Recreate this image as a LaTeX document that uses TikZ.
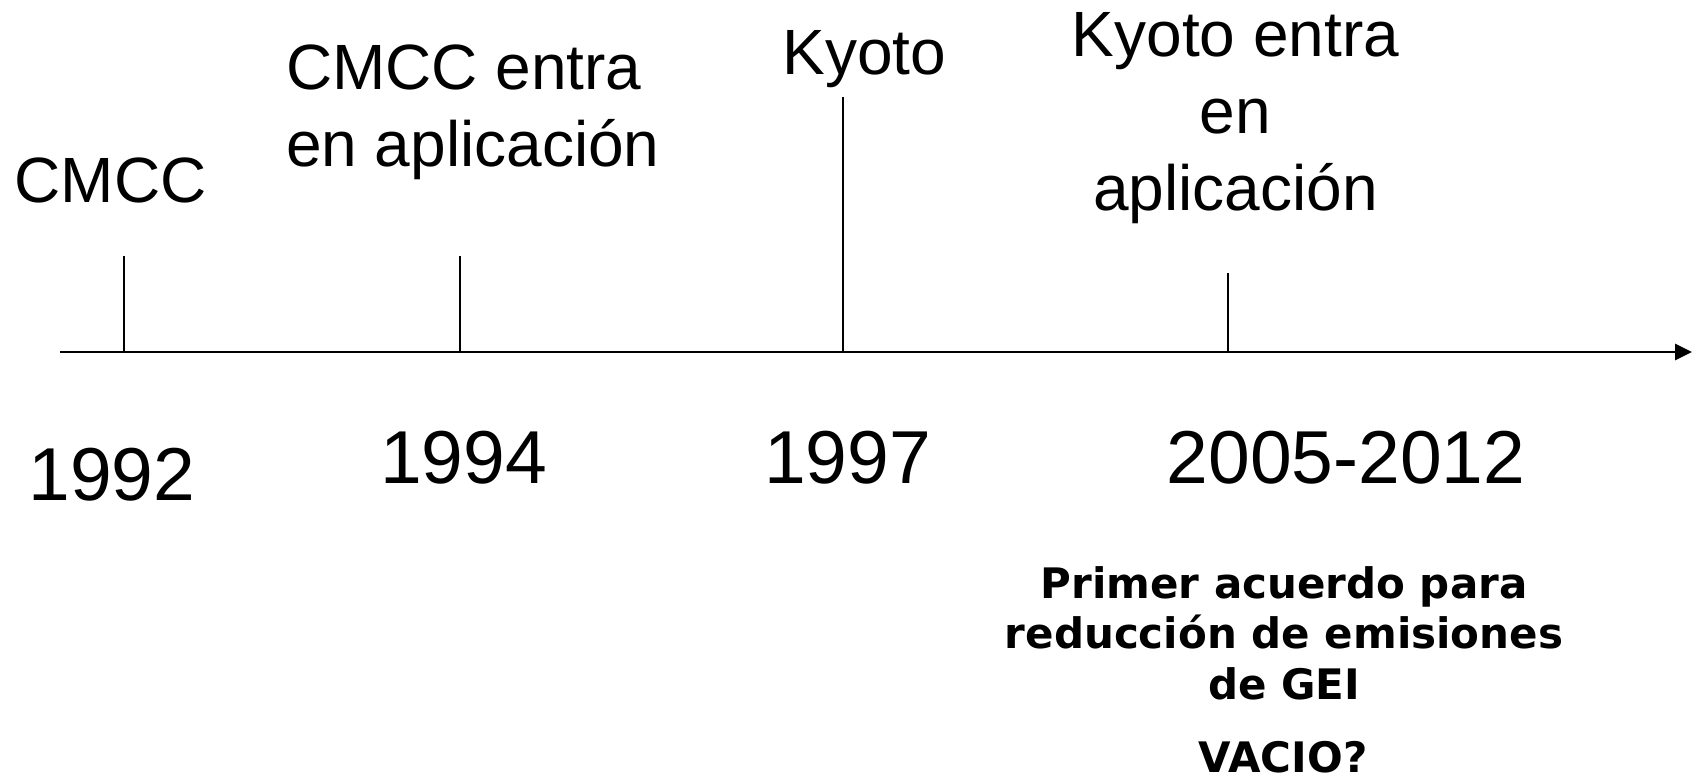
\documentclass[tikz,border=0pt]{standalone}
\usepackage{fontspec}
\setmainfont{Liberation Sans}
\newfontfamily\boldfam{DejaVu Sans}
\usetikzlibrary{arrows.meta}
\tikzset{
  lbl/.style={inner sep=0pt, outer sep=0pt, font=\fontsize{64}{77}\selectfont},
  yr/.style={inner sep=0pt, outer sep=0pt, font=\fontsize{75}{90}\selectfont},
  note/.style={inner sep=0pt, outer sep=0pt, align=center, font=\boldfam\bfseries\fontsize{42}{50.5}\selectfont},
  axisline/.style={line width=2.8pt, -{Triangle[length=17pt,width=16pt]}},
  tickline/.style={line width=1.3pt}
}
\begin{document}
\begin{tikzpicture}[x=1pt,y=-1pt]
\useasboundingbox[fill=white] (0,0) rectangle (1696,778);
% axis
\coordinate (axstart) at (59.5,352);
\coordinate (axend) at (1692,352);
\draw[axisline] (axstart) -- (axend);
% ticks
\coordinate (t1) at (124,352);  \coordinate (t1top) at (124,256);
\coordinate (t2) at (460,352);  \coordinate (t2top) at (460,256);
\coordinate (t3) at (843,352);  \coordinate (t3top) at (843,97);
\coordinate (t4) at (1228,352); \coordinate (t4top) at (1228,273);
\draw[tickline] (t1) -- (t1top);
\draw[tickline] (t2) -- (t2top);
\draw[tickline] (t3) -- (t3top);
\draw[tickline] (t4) -- (t4top);
% event labels
\node[lbl, anchor=base] (cmcc) at (110.5,202) {CMCC};
\node[lbl, anchor=base west, align=left] (cmccap) at (286,167) {CMCC entra\\en aplicación};
\node[lbl, anchor=base] (kyoto) at (864.5,75) {Kyoto};
\node[lbl, anchor=base, align=center] (kyotoap) at (1235.5,211) {Kyoto entra\\en\\aplicación};
% years
\node[yr, anchor=base] (y1992) at (112,500) {1992};
\node[yr, anchor=base] (y1994) at (463.5,483) {1994};
\node[yr, anchor=base] (y1997) at (847.5,483) {1997};
\node[yr, anchor=base] (y2005) at (1346,483) {2005-2012};
% note
\node[note, anchor=base] (acuerdo) at (1284,699) {Primer acuerdo para\\reducción de emisiones\\de GEI};
\node[note, anchor=base, text depth=0pt] (vacio) at (1283,772) {VACIO?};
\end{tikzpicture}
\end{document}
